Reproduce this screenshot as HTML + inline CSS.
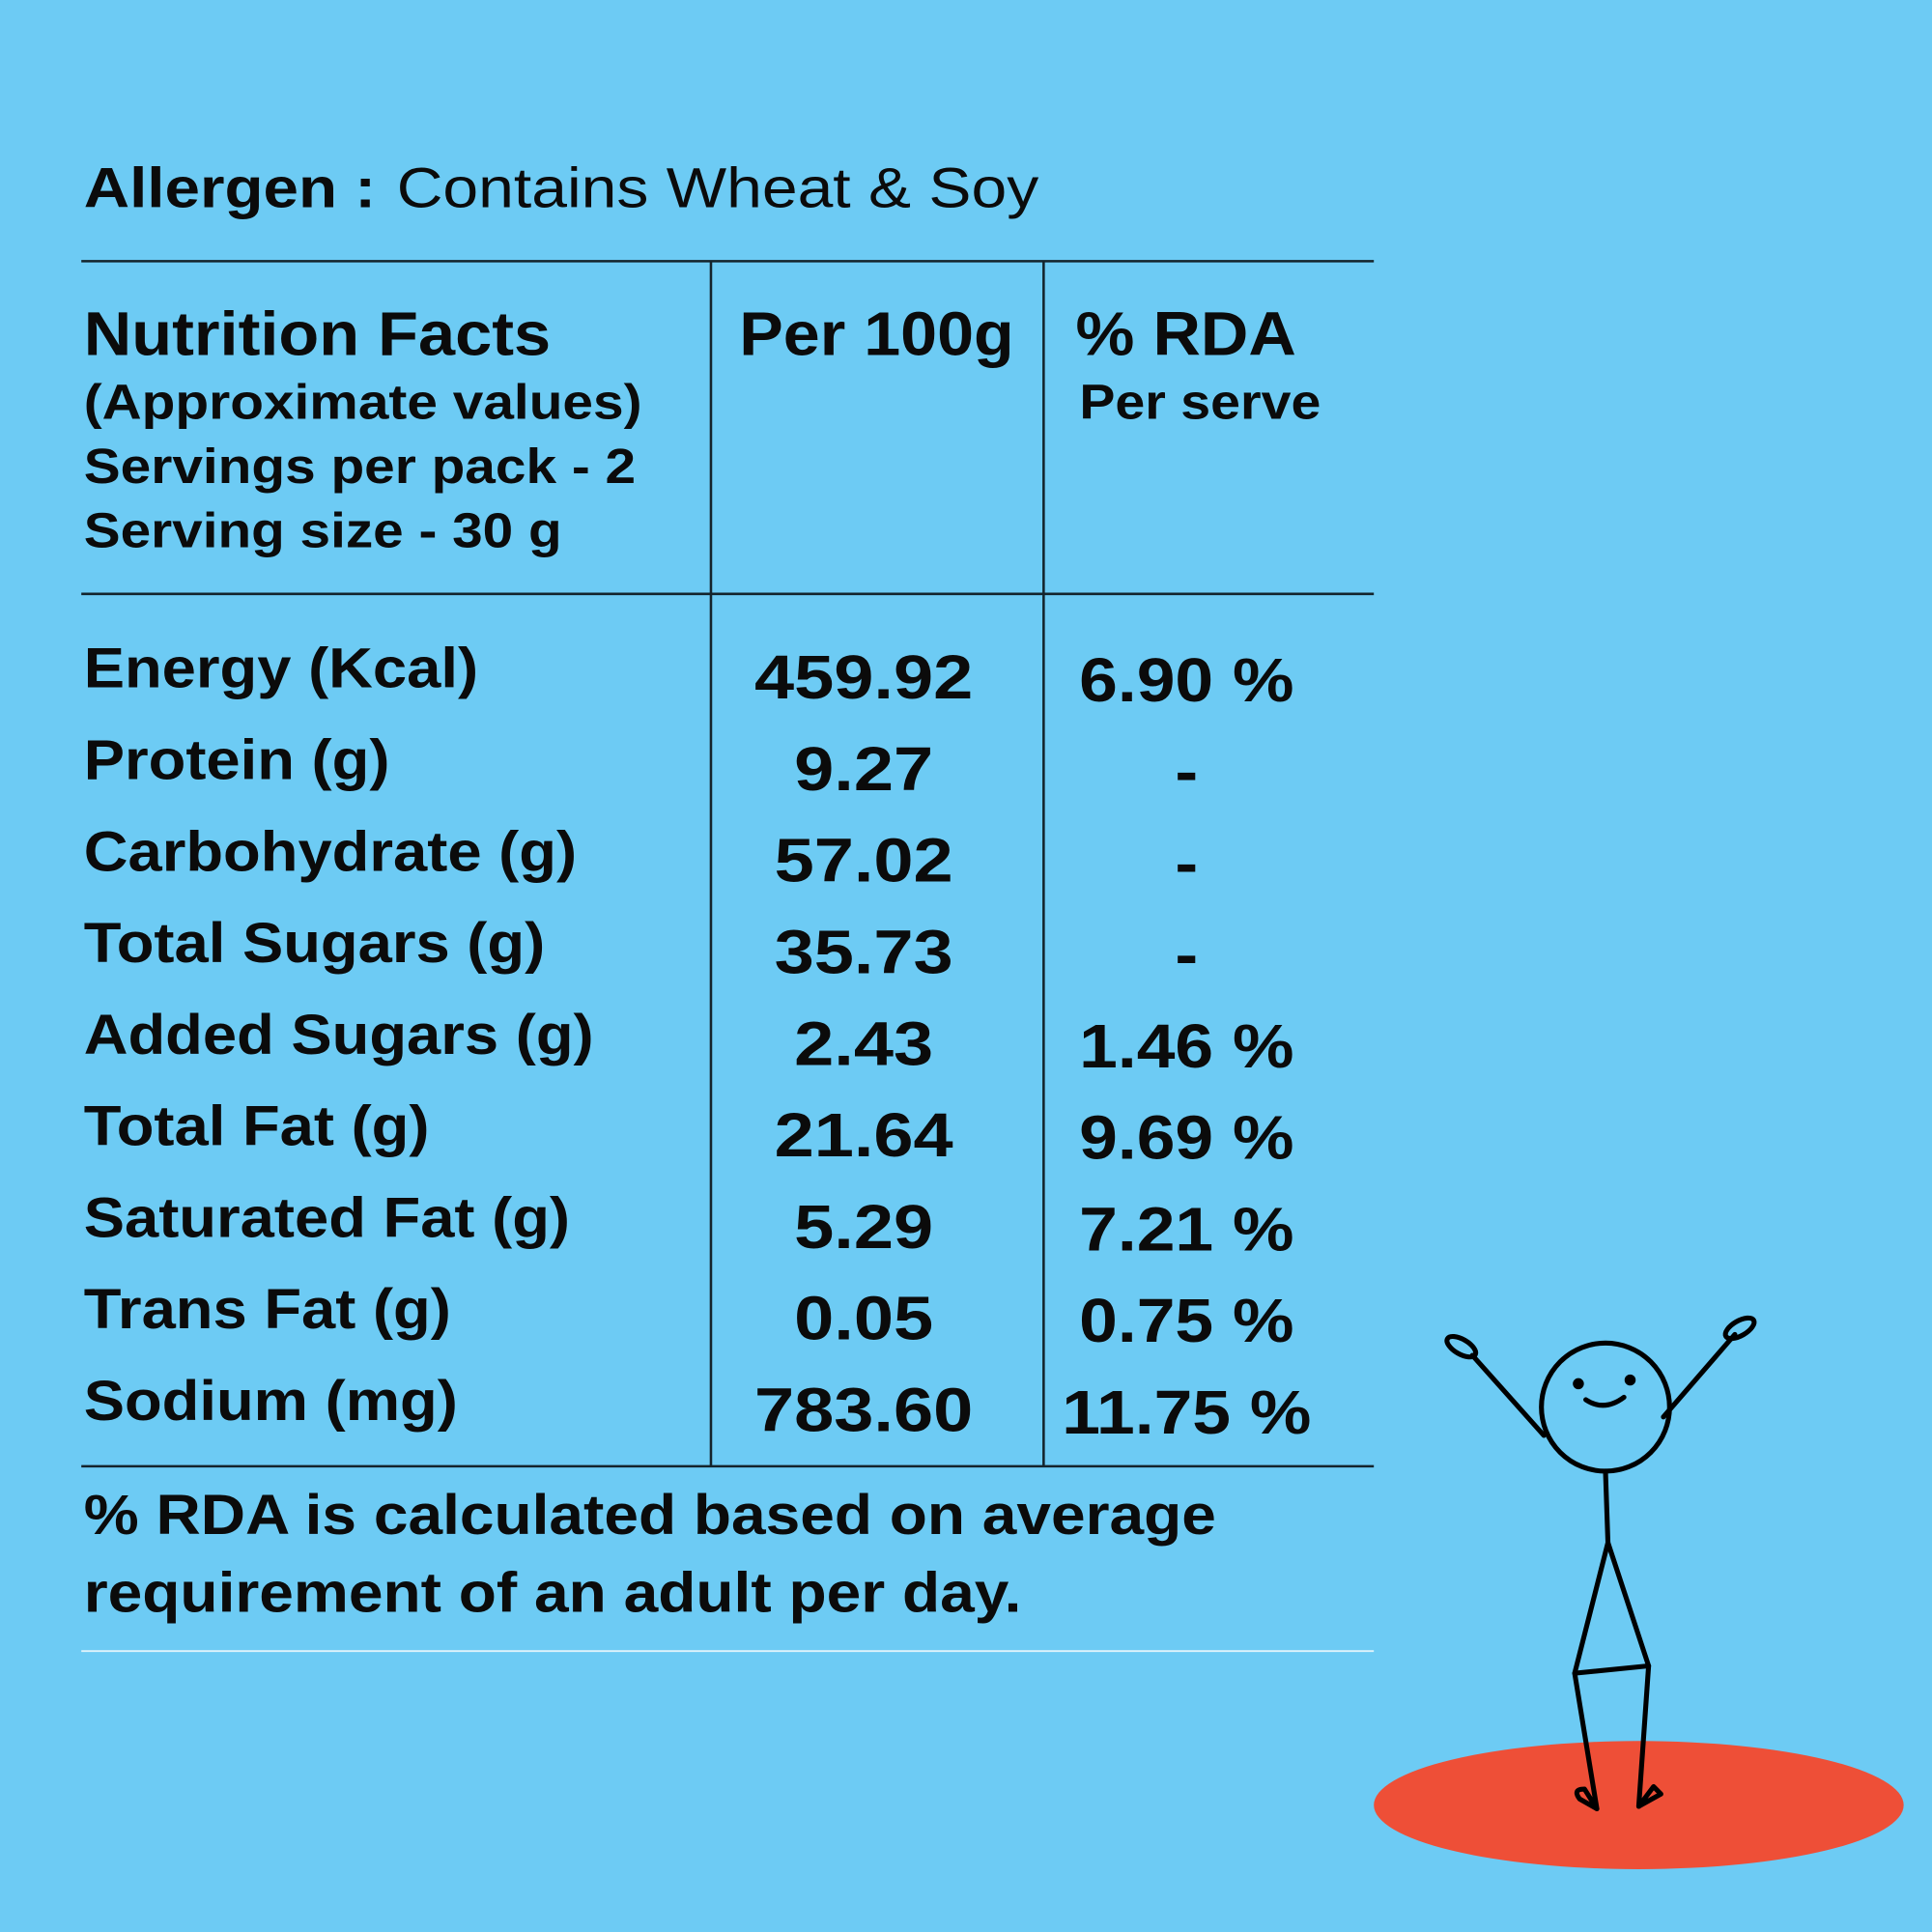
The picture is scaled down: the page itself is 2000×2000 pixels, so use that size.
<!DOCTYPE html>
<html><head><meta charset="utf-8"><style>
html,body{margin:0;padding:0;background:#6DCBF4;}
svg{display:block}
text{font-family:"Liberation Sans",sans-serif;fill:#0b0b0b;}
.b{font-weight:bold}
</style></head><body>
<svg width="2000" height="2000" viewBox="0 0 1568 1568">
<rect width="1568" height="1568" fill="#6DCBF4"/>
<g>
<text x="68" y="168" font-size="46" class="b" textLength="237" lengthAdjust="spacingAndGlyphs">Allergen :</text>
<text x="322" y="168" font-size="46" textLength="521" lengthAdjust="spacingAndGlyphs">Contains Wheat &amp; Soy</text>
</g>
<g stroke="#14242c" stroke-width="2">
<line x1="66" y1="212" x2="1115" y2="212"/>
<line x1="66" y1="482" x2="1115" y2="482"/>
<line x1="66" y1="1190" x2="1115" y2="1190"/>
<line x1="577" y1="212" x2="577" y2="1190"/>
<line x1="847" y1="212" x2="847" y2="1190"/>
</g>
<line x1="66" y1="1340" x2="1115" y2="1340" stroke="#dff3fb" stroke-width="1.5"/>
<g class="b">
<text x="68" y="288" font-size="50" class="b" textLength="379" lengthAdjust="spacingAndGlyphs">Nutrition Facts</text>
<text x="68" y="340" font-size="40" class="b" textLength="453" lengthAdjust="spacingAndGlyphs">(Approximate values)</text>
<text x="68" y="392" font-size="40" class="b" textLength="448" lengthAdjust="spacingAndGlyphs">Servings per pack - 2</text>
<text x="68" y="444" font-size="40" class="b" textLength="388" lengthAdjust="spacingAndGlyphs">Serving size - 30 g</text>
<text x="600" y="288" font-size="50" class="b" textLength="223" lengthAdjust="spacingAndGlyphs">Per 100g</text>
<text x="873" y="288" font-size="50" class="b" textLength="179" lengthAdjust="spacingAndGlyphs">% RDA</text>
<text x="876" y="340" font-size="40" class="b" textLength="196" lengthAdjust="spacingAndGlyphs">Per serve</text>
</g>
<g id="rows"></g>
<g>
<text x="68" y="1245" font-size="46" class="b" textLength="919" lengthAdjust="spacingAndGlyphs">% RDA is calculated based on average</text>
<text x="68" y="1308" font-size="46" class="b" textLength="761" lengthAdjust="spacingAndGlyphs">requirement of an adult per day.</text>
</g>
<g>
<ellipse cx="1330" cy="1465" rx="215" ry="52" fill="#EE4F37"/>
<g fill="none" stroke="#000" stroke-width="4" stroke-linecap="round" stroke-linejoin="round">
<circle cx="1303" cy="1142" r="52"/>
<circle cx="1281" cy="1123" r="2.5" fill="#000"/>
<circle cx="1323" cy="1120" r="2.5" fill="#000"/>
<path d="M1287 1136 Q1302 1146 1318 1134"/>
<path d="M1253 1165 L1195 1100"/>
<ellipse cx="1186" cy="1093" rx="13" ry="6" transform="rotate(30 1186 1093)"/>
<path d="M1350 1150 L1408 1083"/>
<ellipse cx="1412" cy="1078" rx="13" ry="6" transform="rotate(-30 1412 1078)"/>
<path d="M1303 1194 L1305 1252 L1278 1358 L1296 1468"/>
<path d="M1305 1252 L1338 1352 L1330 1466"/>
<path d="M1278 1358 L1338 1352"/>
<path d="M1296 1468 L1282 1460 Q1276 1452 1286 1452 Z"/>
<path d="M1330 1466 L1342 1450 L1348 1456 Z"/>
</g>
</g>
</svg>
<script>
const labels=["Energy (Kcal)","Protein (g)","Carbohydrate (g)","Total Sugars (g)","Added Sugars (g)","Total Fat (g)","Saturated Fat (g)","Trans Fat (g)","Sodium (mg)"];
const per100g=["459.92","9.27","57.02","35.73","2.43","21.64","5.29","0.05","783.60"];
const rdaPerServe=["6.90 %","-","-","-","1.46 %","9.69 %","7.21 %","0.75 %","11.75 %"];
const NS="http://www.w3.org/2000/svg";
const g=document.getElementById('rows');
function rowY(i){return 558+i*74.3;}
function mk(x,y,size,txt,anchor,sx){
  const t=document.createElementNS(NS,'text');
  t.setAttribute('x',x);t.setAttribute('y',y);t.setAttribute('font-size',size);
  t.setAttribute('font-weight','bold');
  if(anchor)t.setAttribute('text-anchor',anchor);
  t.setAttribute('transform','translate('+x+' 0) scale('+sx+' 1) translate('+(-x)+' 0)');
  t.textContent=txt;g.appendChild(t);return t;
}
labels.forEach((l,i)=>{
  const a=mk(68,rowY(i),46,l,null,1.08);
  
  
  const v=mk(701,rowY(i)+9,50,per100g[i],'middle',1.16);
  
  
  const r=mk(963,rowY(i)+11,50,rdaPerServe[i],'middle',1.12);
  
  
});
</script>
</body></html>
